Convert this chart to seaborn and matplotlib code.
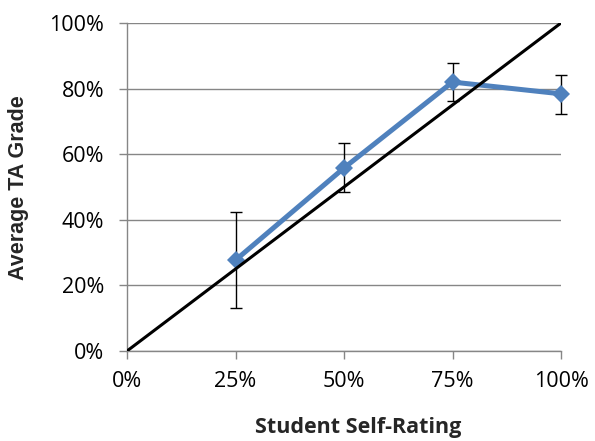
import matplotlib
matplotlib.use("Agg")
import matplotlib.pyplot as plt
import seaborn as sns
import pandas as pd
from matplotlib.ticker import FuncFormatter

self_rating = [25, 50, 75, 100]
ta_grade = [27.7, 55.8, 82.0, 78.4]
err_low = [13.1, 48.5, 76.2, 72.3]
err_high = [42.4, 63.3, 87.8, 84.1]
diag_x = [0, 100]
diag_y = [0, 100]

sns.set_theme(style="white")
plt.rcParams['font.family'] = ['Open Sans', 'DejaVu Sans']

fig = plt.figure(figsize=(5.95, 4.41), dpi=100)
ax = fig.add_axes([127/595, 1-351/441, (561-127)/595, (351-23)/441])

df = pd.DataFrame({"x": self_rating, "y": ta_grade})
ddf = pd.DataFrame({"x": diag_x, "y": diag_y})

yerr = [[y - lo for y, lo in zip(ta_grade, err_low)],
        [hi - y for y, hi in zip(ta_grade, err_high)]]
eb = ax.errorbar(self_rating, ta_grade, yerr=yerr, fmt='none', ecolor='black',
                 elinewidth=1.0, capsize=4.5, capthick=1.0, zorder=3)
for art in eb.lines[1]:
    art.set_clip_on(False)
for art in eb.lines[2]:
    art.set_clip_on(False)

sns.lineplot(data=df, x="x", y="y", ax=ax, color="#4F81BD", linewidth=3.6,
             marker='D', markersize=9, markeredgewidth=0, zorder=4, clip_on=False)
sns.lineplot(data=ddf, x="x", y="y", ax=ax, color="black", linewidth=2.2, zorder=5)

ax.set_xlim(0, 100)
ax.set_ylim(0, 100)
ax.set_xticks([0, 25, 50, 75, 100])
ax.set_yticks([0, 20, 40, 60, 80, 100])
fmt = FuncFormatter(lambda v, p: f"{int(round(v))}%")
ax.xaxis.set_major_formatter(fmt)
ax.yaxis.set_major_formatter(fmt)

ax.yaxis.grid(True, color="#868686", linewidth=1.0)
ax.xaxis.grid(False)
ax.set_axisbelow(True)
for s in ["top", "right"]:
    ax.spines[s].set_visible(False)
for s in ["left", "bottom"]:
    ax.spines[s].set_color("#868686")
    ax.spines[s].set_linewidth(1.0)
ax.tick_params(axis='both', which='major', direction='out', length=5.5,
               width=1.0, color="#868686", labelsize=15.5, labelcolor="black",
               left=True, bottom=True)
ax.tick_params(axis='x', pad=9)
ax.tick_params(axis='y', pad=11)

ax.set_xlabel("Student Self-Rating", fontsize=15.5, fontweight='bold')
ax.set_ylabel("Average TA Grade", fontsize=15.5, fontweight='bold',
              family=['Liberation Sans', 'DejaVu Sans'])
ax.xaxis.set_label_coords(358/595, 1-428/441, transform=fig.transFigure)
ax.yaxis.set_label_coords(19/595, 1-188/441, transform=fig.transFigure)
ax.xaxis.label.set_va('center')
ax.yaxis.label.set_va('center')

fig.savefig("out.png", dpi=100)
